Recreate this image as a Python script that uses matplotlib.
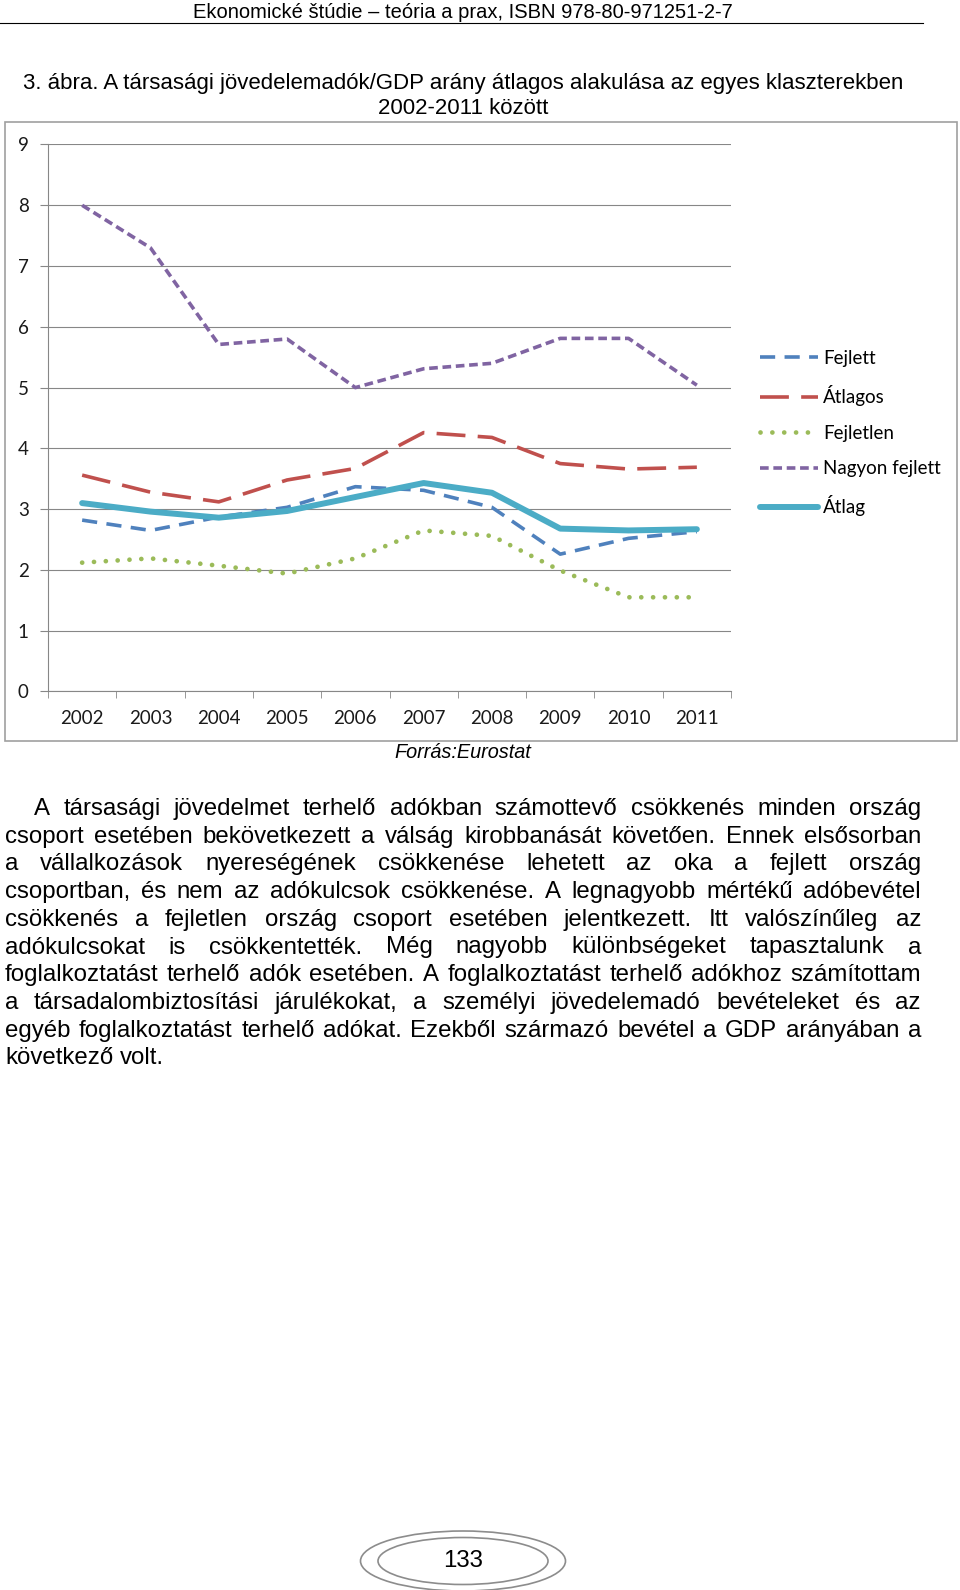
import matplotlib
matplotlib.use('Agg')
import matplotlib.pyplot as plt
from matplotlib.lines import Line2D
from matplotlib.patches import Rectangle, Ellipse

# data
years = ['2002', '2003', '2004', '2005', '2006', '2007', '2008', '2009', '2010', '2011']
fejlett = [2.82, 2.65, 2.87, 3.03, 3.37, 3.31, 3.03, 2.26, 2.52, 2.63]
atlagos = [3.56, 3.28, 3.12, 3.48, 3.67, 4.26, 4.18, 3.75, 3.66, 3.69]
fejletlen = [2.12, 2.19, 2.07, 1.94, 2.19, 2.65, 2.56, 1.99, 1.55, 1.55]
nagyon_fejlett = [8.0, 7.3, 5.71, 5.8, 5.0, 5.31, 5.4, 5.81, 5.81, 5.04]
atlag = [3.10, 2.96, 2.86, 2.97, 3.20, 3.43, 3.27, 2.68, 2.65, 2.67]
y_ticks = [0, 1, 2, 3, 4, 5, 6, 7, 8, 9]

header = 'Ekonomické štúdie – teória a prax, ISBN 978-80-971251-2-7'
caption = ['3. ábra. A társasági jövedelemadók/GDP arány átlagos alakulása az egyes klaszterekben',
           '2002-2011 között']
source = 'Forrás:Eurostat'
body = [
    'A társasági jövedelmet terhelő adókban számottevő csökkenés minden ország',
    'csoport esetében bekövetkezett a válság kirobbanását követően. Ennek elsősorban',
    'a vállalkozások nyereségének csökkenése lehetett az oka a fejlett ország',
    'csoportban, és nem az adókulcsok csökkenése. A legnagyobb mértékű adóbevétel',
    'csökkenés a fejletlen ország csoport esetében jelentkezett. Itt valószínűleg az',
    'adókulcsokat is csökkentették. Még nagyobb különbségeket tapasztalunk a',
    'foglalkoztatást terhelő adók esetében. A foglalkoztatást terhelő adókhoz számítottam',
    'a társadalombiztosítási járulékokat, a személyi jövedelemadó bevételeket és az',
    'egyéb foglalkoztatást terhelő adókat. Ezekből származó bevétel a GDP arányában a',
    'következő volt.',
]
page_no = '133'

W, H = 960, 1590
fig = plt.figure(figsize=(W / 100, H / 100), dpi=100)


def fx(px):
    return px / W


def fy(py):
    return 1 - py / H


page_font = 'Liberation Sans'
chart_font = 'Lato'
grid_col = '#878787'

# chart frame
fig.add_artist(Rectangle((fx(5), fy(741)), fx(952), (741 - 122) / H, fill=False,
                         ec='#a0a0a0', lw=1.2, transform=fig.transFigure))

ax = fig.add_axes([fx(48), fy(691.5), fx(731) - fx(48), (691.5 - 144.5) / H])
x = list(range(len(years)))
ax.plot(x, fejlett, color='#4F81BD', lw=2.6, dashes=(4.2, 2.6), label='Fejlett')
ax.plot(x, atlagos, color='#C0504D', lw=2.6, dashes=(8, 3.4), label='Átlagos')
ax.plot(x, fejletlen, color='#9BBB59', lw=3.4, dashes=(0.01, 2.5),
        dash_capstyle='round', label='Fejletlen')
ax.plot(x, nagyon_fejlett, color='#8064A2', lw=2.6, dashes=(2.4, 1.3), label='Nagyon fejlett')
ax.plot(x, atlag, color='#4BACC6', lw=4.3, solid_capstyle='round', label='Átlag')

ax.set_xlim(-0.5, len(years) - 0.5)
ax.set_ylim(0, 9)
ax.set_yticks(y_ticks)
ax.set_xticks(x)
ax.set_xticklabels(years)
ax.set_xticks([i - 0.5 for i in range(len(years) + 1)], minor=True)
ax.yaxis.grid(True, color=grid_col, lw=0.8)
ax.set_axisbelow(True)
for s in ['top', 'right']:
    ax.spines[s].set_visible(False)
for s in ['left', 'bottom']:
    ax.spines[s].set_color(grid_col)
    ax.spines[s].set_linewidth(0.8)
ax.tick_params(axis='y', direction='out', length=5.8, color=grid_col, pad=8, labelsize=13.5)
ax.tick_params(axis='x', which='major', length=0, pad=13, labelsize=13.5)
ax.tick_params(axis='x', which='minor', direction='out', length=5, color=grid_col)
for lab in ax.get_xticklabels() + ax.get_yticklabels():
    lab.set_family(chart_font)
    lab.set_color('#1a1a1a')

leg = ax.legend(loc='upper left', bbox_to_anchor=(fx(760), fy(350)),
                bbox_transform=fig.transFigure, frameon=False, borderpad=0,
                borderaxespad=0, handlelength=3.1, handletextpad=0.25,
                labelspacing=0.98, prop={'family': chart_font, 'size': 13.5})

# page texts
fig.text(fx(463), fy(12), header, ha='center', va='center', fontsize=14.5, family=page_font)
fig.add_artist(Line2D([0, fx(923)], [fy(22.5), fy(22.5)], color='black', lw=0.8))
fig.text(fx(463), fy(84), caption[0], ha='center', va='center', fontsize=16, family=page_font)
fig.text(fx(463), fy(108), caption[1], ha='center', va='center', fontsize=16, family=page_font)
fig.text(fx(463), fy(752), source, ha='center', va='center', fontsize=14.3,
         family=page_font, style='italic')

renderer = fig.canvas.get_renderer()
body_size = 17.3
left, right = 5, 921
for i, line in enumerate(body):
    base = 815 + i * 27.7
    x0 = 34 if i == 0 else left
    words = line.split()
    items = [fig.text(0, fy(base), w, fontsize=body_size, family=page_font, va='baseline')
             for w in words]
    widths = [t.get_window_extent(renderer).width for t in items]
    if i == len(body) - 1:
        sp = fig.text(0, 0, 'a a', fontsize=body_size, family=page_font)
        sa = fig.text(0, 0, 'aa', fontsize=body_size, family=page_font)
        gap = sp.get_window_extent(renderer).width - sa.get_window_extent(renderer).width
        sp.remove()
        sa.remove()
    else:
        gap = (right - x0 - sum(widths)) / (len(words) - 1)
    pos = x0
    for t, w in zip(items, widths):
        t.set_x(fx(pos))
        pos += w + gap

# page number
for wd, ht in [(205, 60), (170, 47)]:
    fig.add_artist(Ellipse((fx(463), fy(1561)), fx(wd), ht / H, fill=False,
                           ec='#8c8c8c', lw=1.2, transform=fig.transFigure))
fig.text(fx(463), fy(1561), page_no, ha='center', va='center', fontsize=17.3, family=page_font)

fig.savefig('out.png', dpi=100)
